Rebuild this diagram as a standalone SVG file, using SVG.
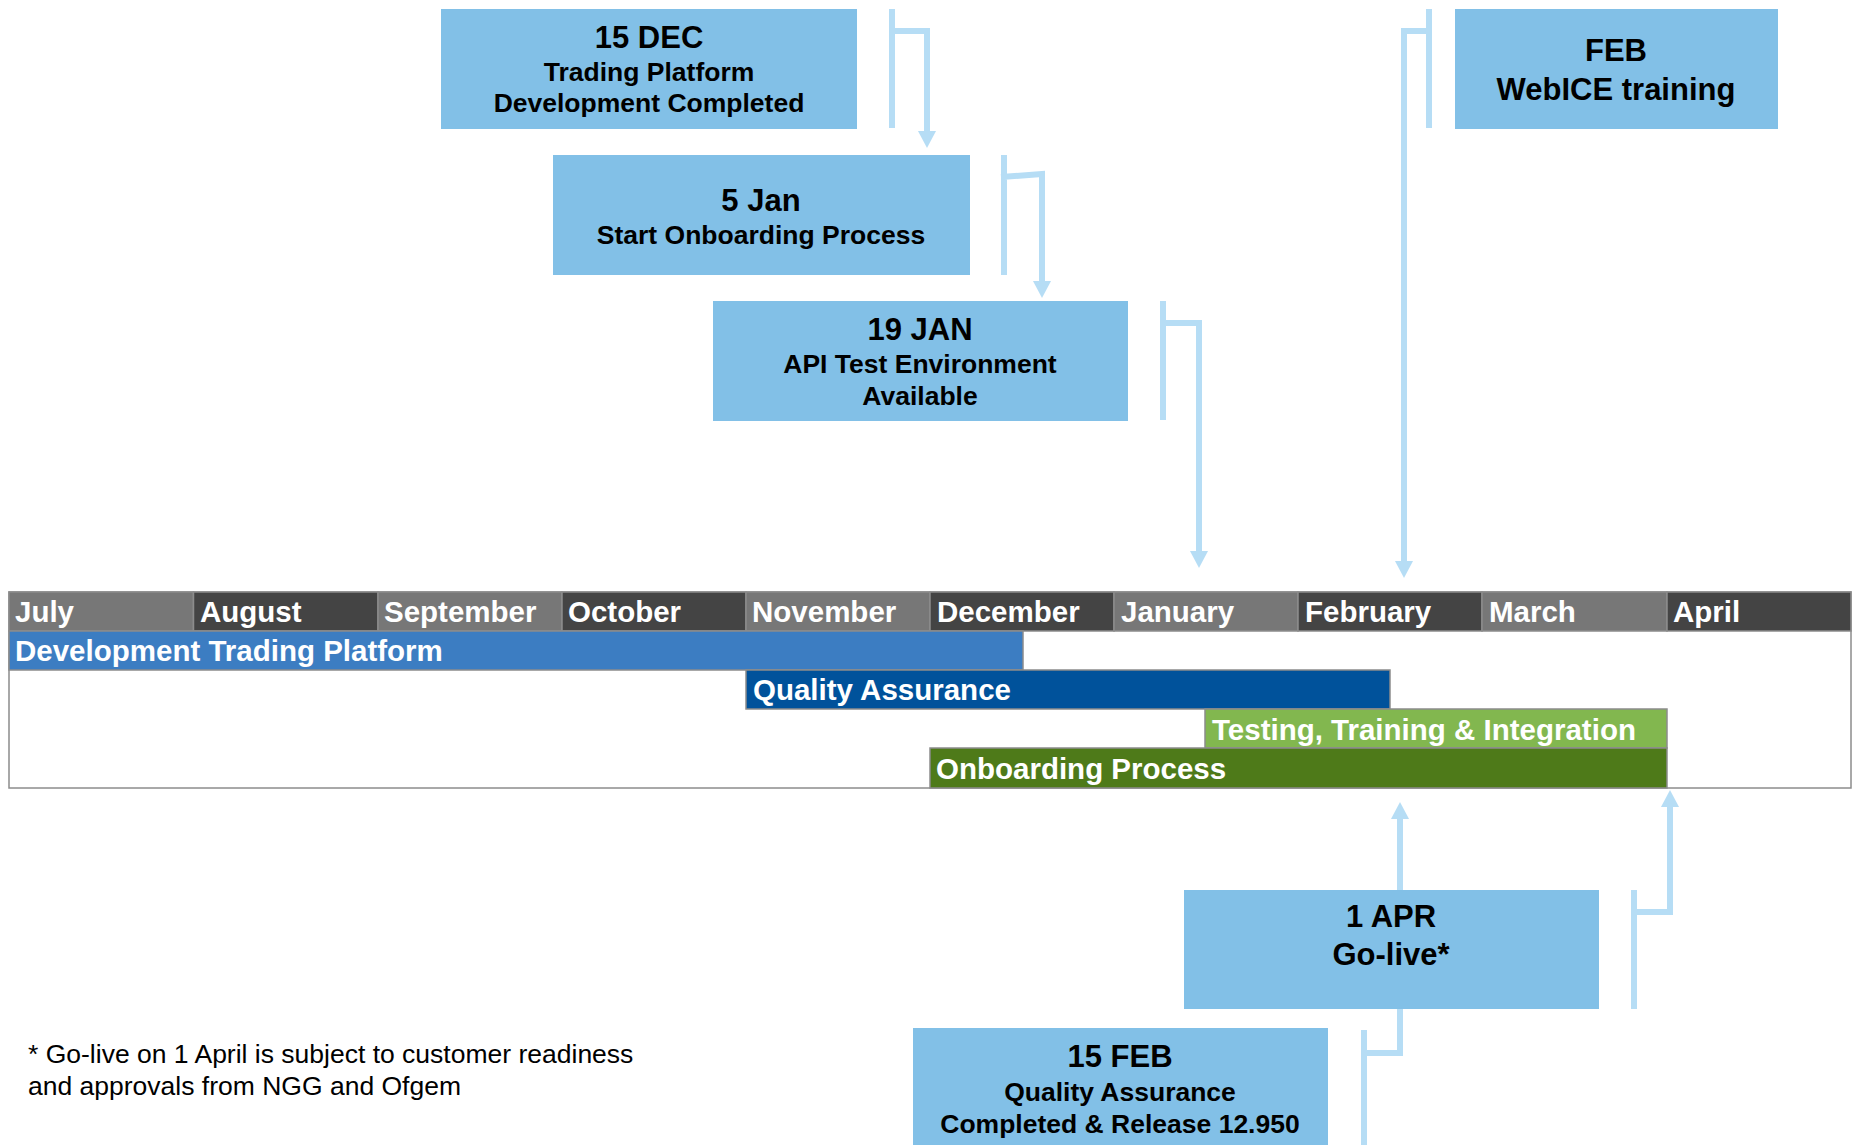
<svg xmlns="http://www.w3.org/2000/svg" width="1856" height="1145" viewBox="0 0 1856 1145">
<style>
.box{fill:#82C0E7}
.t1{font-family:"Liberation Sans",Arial,sans-serif;font-weight:bold;font-size:31px;fill:#000;text-anchor:middle}
.t2{font-family:"Liberation Sans",Arial,sans-serif;font-weight:bold;font-size:26.5px;fill:#000;text-anchor:middle}
.con{fill:none;stroke:#B6DDF5;stroke-width:6;stroke-linejoin:miter}
.mon{font-family:"Liberation Sans",Arial,sans-serif;font-weight:bold;font-size:29.5px;fill:#fff}
.lt{fill:#777777;stroke:#8c8c8c;stroke-width:1.5}
.dk{fill:#444444;stroke:#8c8c8c;stroke-width:1.5}
.bar{stroke:#8c8c8c;stroke-width:1.5}
.note{font-family:"Liberation Sans",Arial,sans-serif;font-size:26.5px;fill:#000}
</style>
<defs>
<marker id="arr" markerUnits="userSpaceOnUse" markerWidth="17" markerHeight="18" viewBox="0 0 17 18" refX="0" refY="9" orient="auto">
<path d="M0,0 L17,9 L0,18 z" fill="#B6DDF5"/>
</marker>
</defs>
<rect width="1856" height="1145" fill="#fff"/>

<g id="connectors">
<path class="con" d="M892,9 V128 M889,31 H927 V131" marker-end="url(#arr)"/>
<path class="con" d="M1004,155 V275 M1001,177 L1042,174 V281" marker-end="url(#arr)"/>
<path class="con" d="M1163,301 V420 M1160,323 H1199 V551" marker-end="url(#arr)"/>
<path class="con" d="M1429,9 V128 M1432,31 H1404 V561" marker-end="url(#arr)"/>
<path class="con" d="M1634,890 V1009 M1631,912 H1670 V807" marker-end="url(#arr)"/>
<path class="con" d="M1364,1030 V1145 M1361,1053 H1400 V819" marker-end="url(#arr)"/>
</g>

<g id="timeline">
<rect x="9" y="592" width="1842" height="196" fill="#fff" stroke="#8c8c8c" stroke-width="1.5"/>
<rect class="lt" x="9" y="592" width="184.5" height="39"/>
<rect class="dk" x="193.5" y="592" width="184.5" height="39"/>
<rect class="lt" x="378" y="592" width="184" height="39"/>
<rect class="dk" x="562" y="592" width="184" height="39"/>
<rect class="lt" x="746" y="592" width="184" height="39"/>
<rect class="dk" x="930" y="592" width="184" height="39"/>
<rect class="lt" x="1114" y="592" width="184" height="39"/>
<rect class="dk" x="1298" y="592" width="184" height="39"/>
<rect class="lt" x="1482" y="592" width="185" height="39"/>
<rect class="dk" x="1667" y="592" width="184" height="39"/>
<text class="mon" x="15" y="622">July</text>
<text class="mon" x="200" y="622">August</text>
<text class="mon" x="384" y="622">September</text>
<text class="mon" x="568" y="622">October</text>
<text class="mon" x="752" y="622">November</text>
<text class="mon" x="937" y="622">December</text>
<text class="mon" x="1121" y="622">January</text>
<text class="mon" x="1305" y="622">February</text>
<text class="mon" x="1489" y="622">March</text>
<text class="mon" x="1673" y="622">April</text>
</g>

<g id="bar-dev">
<rect class="bar" x="9" y="631" width="1014" height="39" fill="#3C7DC2"/>
<text class="mon" x="15" y="661">Development Trading Platform</text>
</g>
<g id="bar-qa">
<rect class="bar" x="746" y="670" width="644" height="39" fill="#00529B"/>
<text class="mon" x="753" y="700">Quality Assurance</text>
</g>
<g id="bar-testing">
<rect class="bar" x="1205" y="709" width="462" height="39" fill="#82B74F"/>
<text class="mon" x="1212" y="740">Testing, Training &amp; Integration</text>
</g>
<g id="bar-onboarding">
<rect class="bar" x="930" y="748" width="737" height="40" fill="#4E7A19"/>
<text class="mon" x="936" y="779">Onboarding Process</text>
</g>

<g id="node-15dec">
<rect class="box" x="441" y="9" width="416" height="120"/>
<text class="t1" x="649" y="48">15 DEC</text>
<text class="t2" x="649" y="81">Trading Platform</text>
<text class="t2" x="649" y="112">Development Completed</text>
</g>
<g id="node-5jan">
<rect class="box" x="553" y="155" width="417" height="120"/>
<text class="t1" x="761" y="211">5 Jan</text>
<text class="t2" x="761" y="244">Start Onboarding Process</text>
</g>
<g id="node-19jan">
<rect class="box" x="713" y="301" width="415" height="120"/>
<text class="t1" x="920" y="340">19 JAN</text>
<text class="t2" x="920" y="373">API Test Environment</text>
<text class="t2" x="920" y="405">Available</text>
</g>
<g id="node-feb">
<rect class="box" x="1455" y="9" width="323" height="120"/>
<text class="t1" x="1616" y="61">FEB</text>
<text class="t1" x="1616" y="100">WebICE training</text>
</g>
<g id="node-1apr">
<rect class="box" x="1184" y="890" width="415" height="119"/>
<text class="t1" x="1391" y="927">1 APR</text>
<text class="t1" x="1391" y="965">Go-live*</text>
</g>
<g id="node-15feb">
<rect class="box" x="913" y="1028" width="415" height="130"/>
<text class="t1" x="1120" y="1067">15 FEB</text>
<text class="t2" x="1120" y="1101">Quality Assurance</text>
<text class="t2" x="1120" y="1133">Completed &amp; Release 12.950</text>
</g>

<g id="footnote">
<text class="note" x="28" y="1063">* Go-live on 1 April is subject to customer readiness</text>
<text class="note" x="28" y="1095">and approvals from NGG and Ofgem</text>
</g>
</svg>
